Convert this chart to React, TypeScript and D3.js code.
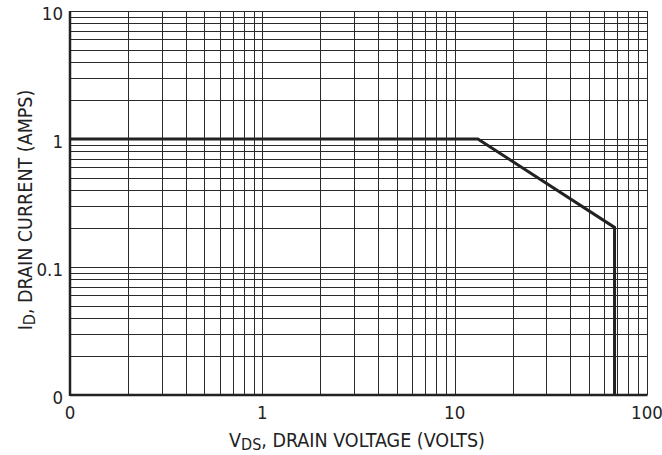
import React from "react";
import * as d3 from "d3";

const xDomain: [number, number] = [0.1, 100];
const yDomain: [number, number] = [0.01, 10];
const xTickValues = [0.1, 1, 10, 100];
const xTickLabels = ["0", "1", "10", "100"];
const yTickValues = [0.01, 0.1, 1, 10];
const yTickLabels = ["0", "0.1", "1", "10"];
const soaV = [0.1, 13.2, 67.8, 67.8];
const soaI = [1, 1, 0.204, 0.01];

const W = 662, H = 455;
const M = { left: 70, right: 647, top: 11, bottom: 395 };
const FONT = "'Liberation Sans Narrow', 'DejaVu Sans Condensed', 'Liberation Sans', sans-serif";

function minorTicks(domain: [number, number]) {
  const out: number[] = [];
  for (let d = domain[0]; d < domain[1] * 0.999; d *= 10) {
    for (let k = 1; k <= 10; k++) out.push(d * k);
  }
  return out;
}

export default function App() {
  const x = d3.scaleLog().domain(xDomain).range([M.left, M.right]);
  const y = d3.scaleLog().domain(yDomain).range([M.bottom, M.top]);
  const xg = minorTicks(xDomain);
  const yg = minorTicks(yDomain);
  const line = d3.line<number>().x((_, i) => x(soaV[i])).y((_, i) => y(soaI[i]));
  const pts = soaV.map((_, i) => i);
  const cr = (v: number) => Math.round(v) + 0.5;
  return (
    <svg width={W} height={H} style={{ position: "absolute", left: 0, top: 0, background: "#fff" }}>
      <g stroke="#2a2a2a" strokeWidth={1}>
        {xg.map((v, i) => (
          <line key={"x" + i} x1={cr(x(v))} x2={cr(x(v))} y1={M.top} y2={M.bottom} />
        ))}
        {yg.map((v, i) => (
          <line key={"y" + i} x1={M.left} x2={M.right} y1={cr(y(v))} y2={cr(y(v))} />
        ))}
      </g>
      <line x1={M.left} x2={M.left} y1={M.top} y2={M.bottom + 1} stroke="#222" strokeWidth={2.5} />
      <line x1={M.left} x2={M.right + 0.5} y1={M.bottom} y2={M.bottom} stroke="#222" strokeWidth={2.5} />
      <path d={line(pts) || ""} fill="none" stroke="#222" strokeWidth={3} strokeLinejoin="miter" />
      <g fontFamily={FONT} fill="#222">
        {yTickValues.map((v, i) => (
          <text key={"yl" + i} x={M.left - 7} y={y(v) + 4} fontSize={18.5} textAnchor="end" dominantBaseline="middle">
            {yTickLabels[i]}
          </text>
        ))}
        {xTickValues.map((v, i) => (
          <text key={"xl" + i} x={x(v)} y={M.bottom + 19} fontSize={18.5} textAnchor="middle" dominantBaseline="middle">
            {xTickLabels[i]}
          </text>
        ))}
        <text x={357} y={447} textAnchor="middle" fontSize={19.5}>
          V<tspan fontSize={16} dy={3}>DS</tspan>
          <tspan dy={-3}>, DRAIN VOLTAGE (VOLTS)</tspan>
        </text>
        <text transform={`translate(32,210) rotate(-90)`} textAnchor="middle" fontSize={19.5}>
          I<tspan fontSize={16} dy={3}>D</tspan>
          <tspan dy={-3}>, DRAIN CURRENT (AMPS)</tspan>
        </text>
      </g>
    </svg>
  );
}
